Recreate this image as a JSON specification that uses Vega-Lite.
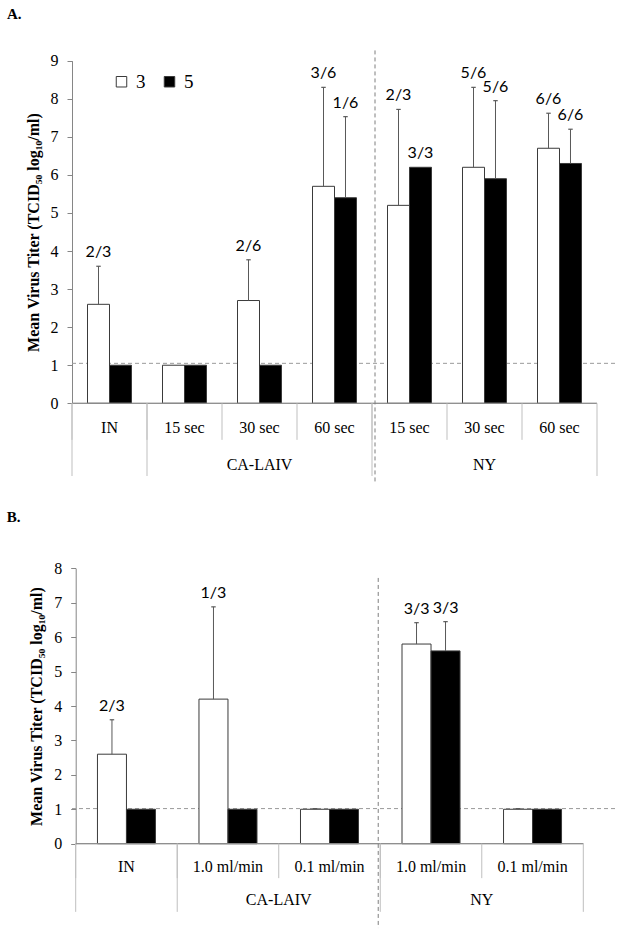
{
  "$schema": "https://vega.github.io/schema/vega-lite/v6.json",
  "width": 543,
  "height": 937,
  "autosize": {"type": "none"},
  "padding": {"left": 72, "right": 7, "top": 0, "bottom": 0},
  "background": "white",
  "config": {
    "view": {"stroke": null},
    "axis": {"labelFont": "Liberation Serif", "labelFontSize": 16, "labelColor": "black", "tickSize": 5, "tickColor": "#868686", "domainColor": "#868686", "titleFont": "Liberation Serif", "titleFontSize": 16, "titleFontWeight": "bold", "titleColor": "black", "titlePadding": 9, "labelPadding": 9, "grid": false, "format": "d"}
  },
  "datasets": {
    "barsA": [
      {"key": "IN", "series": "3", "value": 2.6, "hi": 3.6, "label": "2/3"},
      {"key": "IN", "series": "5", "value": 1.0, "hi": null, "label": null},
      {"key": "CA 15 sec", "series": "3", "value": 1.0, "hi": null, "label": null},
      {"key": "CA 15 sec", "series": "5", "value": 1.0, "hi": null, "label": null},
      {"key": "CA 30 sec", "series": "3", "value": 2.7, "hi": 3.77, "label": "2/6"},
      {"key": "CA 30 sec", "series": "5", "value": 1.0, "hi": null, "label": null},
      {"key": "CA 60 sec", "series": "3", "value": 5.7, "hi": 8.3, "label": "3/6"},
      {"key": "CA 60 sec", "series": "5", "value": 5.4, "hi": 7.53, "label": "1/6"},
      {"key": "NY 15 sec", "series": "3", "value": 5.2, "hi": 7.72, "label": "2/3"},
      {"key": "NY 15 sec", "series": "5", "value": 6.2, "hi": 6.2, "label": "3/3"},
      {"key": "NY 30 sec", "series": "3", "value": 6.2, "hi": 8.3, "label": "5/6"},
      {"key": "NY 30 sec", "series": "5", "value": 5.9, "hi": 7.95, "label": "5/6"},
      {"key": "NY 60 sec", "series": "3", "value": 6.7, "hi": 7.62, "label": "6/6"},
      {"key": "NY 60 sec", "series": "5", "value": 6.3, "hi": 7.2, "label": "6/6"}
    ],
    "catsA": [
      {"key": "IN", "label": "IN", "group": ""},
      {"key": "CA 15 sec", "label": "15 sec", "group": "CA-LAIV"},
      {"key": "CA 30 sec", "label": "30 sec", "group": "CA-LAIV"},
      {"key": "CA 60 sec", "label": "60 sec", "group": "CA-LAIV"},
      {"key": "NY 15 sec", "label": "15 sec", "group": "NY"},
      {"key": "NY 30 sec", "label": "30 sec", "group": "NY"},
      {"key": "NY 60 sec", "label": "60 sec", "group": "NY"}
    ],
    "barsB": [
      {"key": "IN", "series": "3", "value": 2.6, "hi": 3.6, "label": "2/3"},
      {"key": "IN", "series": "5", "value": 1.0, "hi": null, "label": null},
      {"key": "CA 1.0 ml/min", "series": "3", "value": 4.2, "hi": 6.88, "label": "1/3"},
      {"key": "CA 1.0 ml/min", "series": "5", "value": 1.0, "hi": null, "label": null},
      {"key": "CA 0.1 ml/min", "series": "3", "value": 1.0, "hi": 1.02, "label": null},
      {"key": "CA 0.1 ml/min", "series": "5", "value": 1.0, "hi": null, "label": null},
      {"key": "NY 1.0 ml/min", "series": "3", "value": 5.8, "hi": 6.42, "label": "3/3"},
      {"key": "NY 1.0 ml/min", "series": "5", "value": 5.6, "hi": 6.45, "label": "3/3"},
      {"key": "NY 0.1 ml/min", "series": "3", "value": 1.0, "hi": 1.02, "label": null},
      {"key": "NY 0.1 ml/min", "series": "5", "value": 1.0, "hi": null, "label": null}
    ],
    "catsB": [
      {"key": "IN", "label": "IN", "group": ""},
      {"key": "CA 1.0 ml/min", "label": "1.0 ml/min", "group": "CA-LAIV"},
      {"key": "CA 0.1 ml/min", "label": "0.1 ml/min", "group": "CA-LAIV"},
      {"key": "NY 1.0 ml/min", "label": "1.0 ml/min", "group": "NY"},
      {"key": "NY 0.1 ml/min", "label": "0.1 ml/min", "group": "NY"}
    ]
  },
  "layer": [
    {
      "layer": [
        {
          "data": {"values": [{}]},
          "mark": {"type": "rule", "strokeDash": [4, 3], "color": "#9a9a9a", "strokeWidth": 1},
          "encoding": {"y": {"datum": 1.05, "type": "quantitative", "scale": {"domain": [0, 9], "range": [403.3, 60.7], "nice": false, "zero": false}}}
        },
        {
          "data": {"name": "barsA"},
          "mark": {"type": "bar", "stroke": "#3a3a3a", "strokeWidth": 1},
          "encoding": {
            "x": {"field": "key", "type": "nominal", "axis": null, "scale": {"domain": ["IN", "CA 15 sec", "CA 30 sec", "CA 60 sec", "NY 15 sec", "NY 30 sec", "NY 60 sec"], "range": [0, 525], "paddingInner": 0, "paddingOuter": 0}},
            "xOffset": {"field": "series", "type": "nominal", "scale": {"domain": ["3", "5"], "paddingInner": 0, "paddingOuter": 0.705}},
            "y": {"field": "value", "type": "quantitative", "scale": {"domain": [0, 9], "range": [403.3, 60.7], "nice": false, "zero": false}, "axis": {"orient": "left", "values": [0, 1, 2, 3, 4, 5, 6, 7, 8, 9], "title": "Mean Virus Titer (TCID₅₀ log₁₀/ml)"}},
            "color": {"field": "series", "type": "nominal", "scale": {"domain": ["3", "5"], "range": ["#ffffff", "#000000"]}, "legend": {"orient": "none", "legendX": 40, "legendY": 72, "direction": "horizontal", "title": null, "symbolType": "square", "symbolSize": 110, "symbolStrokeColor": "#333333", "symbolStrokeWidth": 1, "labelFont": "Liberation Serif", "labelFontSize": 19, "labelColor": "black", "labelOffset": 5, "columnPadding": 14}}
          }
        },
        {
          "data": {"name": "barsA"},
          "transform": [{"filter": "datum.hi != null && datum.hi > datum.value"}],
          "mark": {"type": "rule", "color": "#595959", "strokeWidth": 1},
          "encoding": {
            "x": {"field": "key", "type": "nominal", "scale": {"domain": ["IN", "CA 15 sec", "CA 30 sec", "CA 60 sec", "NY 15 sec", "NY 30 sec", "NY 60 sec"], "range": [0, 525], "paddingInner": 0, "paddingOuter": 0}},
            "xOffset": {"field": "series", "type": "nominal", "scale": {"domain": ["3", "5"], "paddingInner": 0, "paddingOuter": 0.705}},
            "y": {"field": "value", "type": "quantitative", "scale": {"domain": [0, 9], "range": [403.3, 60.7], "nice": false, "zero": false}},
            "y2": {"field": "hi"}
          }
        },
        {
          "data": {"name": "barsA"},
          "transform": [{"filter": "datum.hi != null && datum.hi > datum.value"}],
          "mark": {"type": "point", "shape": "M-1,0H1", "size": 20, "stroke": "#595959", "filled": false, "strokeWidth": 1.2, "opacity": 1},
          "encoding": {
            "x": {"field": "key", "type": "nominal", "scale": {"domain": ["IN", "CA 15 sec", "CA 30 sec", "CA 60 sec", "NY 15 sec", "NY 30 sec", "NY 60 sec"], "range": [0, 525], "paddingInner": 0, "paddingOuter": 0}},
            "xOffset": {"field": "series", "type": "nominal", "scale": {"domain": ["3", "5"], "paddingInner": 0, "paddingOuter": 0.705}},
            "y": {"field": "hi", "type": "quantitative", "scale": {"domain": [0, 9], "range": [403.3, 60.7], "nice": false, "zero": false}}
          }
        },
        {
          "data": {"name": "barsA"},
          "transform": [{"filter": "datum.label != null"}],
          "mark": {"type": "text", "font": "Lato", "fontSize": 16, "color": "black", "baseline": "alphabetic", "align": "center", "dy": -9},
          "encoding": {
            "x": {"field": "key", "type": "nominal", "scale": {"domain": ["IN", "CA 15 sec", "CA 30 sec", "CA 60 sec", "NY 15 sec", "NY 30 sec", "NY 60 sec"], "range": [0, 525], "paddingInner": 0, "paddingOuter": 0}},
            "xOffset": {"field": "series", "type": "nominal", "scale": {"domain": ["3", "5"], "paddingInner": 0, "paddingOuter": 0.705}},
            "y": {"field": "hi", "type": "quantitative", "scale": {"domain": [0, 9], "range": [403.3, 60.7], "nice": false, "zero": false}},
            "text": {"field": "label"}
          }
        },
        {
          "data": {"name": "catsA"},
          "mark": {"type": "bar", "filled": false, "stroke": "#8c8c8c", "strokeWidth": 1},
          "encoding": {
            "x": {"field": "key", "type": "nominal", "scale": {"domain": ["IN", "CA 15 sec", "CA 30 sec", "CA 60 sec", "NY 15 sec", "NY 30 sec", "NY 60 sec"], "range": [0, 525], "paddingInner": 0, "paddingOuter": 0}},
            "y": {"datum": 0, "type": "quantitative", "scale": {"domain": [0, 9], "range": [403.3, 60.7], "nice": false, "zero": false}},
            "y2": {"datum": 0}
          }
        },
        {
          "data": {"name": "catsA"},
          "mark": {"type": "rule", "color": "#bfbfbf", "strokeWidth": 1},
          "encoding": {
            "x": {"field": "key", "type": "nominal", "bandPosition": 0, "scale": {"domain": ["IN", "CA 15 sec", "CA 30 sec", "CA 60 sec", "NY 15 sec", "NY 30 sec", "NY 60 sec"], "range": [0, 525], "paddingInner": 0, "paddingOuter": 0}},
            "y": {"datum": 0, "type": "quantitative", "scale": {"domain": [0, 9], "range": [403.3, 60.7], "nice": false, "zero": false}},
            "y2": {"datum": -0.96}
          }
        },
        {
          "data": {"name": "catsA"},
          "transform": [{"filter": "indexof(['IN','CA 15 sec','NY 15 sec'], datum.key) >= 0"}],
          "mark": {"type": "rule", "color": "#bfbfbf", "strokeWidth": 1},
          "encoding": {
            "x": {"field": "key", "type": "nominal", "bandPosition": 0, "scale": {"domain": ["IN", "CA 15 sec", "CA 30 sec", "CA 60 sec", "NY 15 sec", "NY 30 sec", "NY 60 sec"], "range": [0, 525], "paddingInner": 0, "paddingOuter": 0}},
            "y": {"datum": 0, "type": "quantitative", "scale": {"domain": [0, 9], "range": [403.3, 60.7], "nice": false, "zero": false}},
            "y2": {"datum": -1.91}
          }
        },
        {
          "data": {"name": "catsA"},
          "transform": [{"filter": "datum.key == 'NY 60 sec'"}],
          "mark": {"type": "rule", "color": "#bfbfbf", "strokeWidth": 1},
          "encoding": {
            "x": {"field": "key", "type": "nominal", "bandPosition": 1, "scale": {"domain": ["IN", "CA 15 sec", "CA 30 sec", "CA 60 sec", "NY 15 sec", "NY 30 sec", "NY 60 sec"], "range": [0, 525], "paddingInner": 0, "paddingOuter": 0}},
            "y": {"datum": 0, "type": "quantitative", "scale": {"domain": [0, 9], "range": [403.3, 60.7], "nice": false, "zero": false}},
            "y2": {"datum": -1.91}
          }
        },
        {
          "data": {"name": "catsA"},
          "transform": [{"filter": "datum.key == 'NY 15 sec'"}],
          "mark": {"type": "rule", "strokeDash": [4, 3], "color": "#7f7f7f", "strokeWidth": 1},
          "encoding": {
            "x": {"field": "key", "type": "nominal", "bandPosition": 0.04, "scale": {"domain": ["IN", "CA 15 sec", "CA 30 sec", "CA 60 sec", "NY 15 sec", "NY 30 sec", "NY 60 sec"], "range": [0, 525], "paddingInner": 0, "paddingOuter": 0}},
            "y": {"datum": 9.27, "type": "quantitative", "scale": {"domain": [0, 9], "range": [403.3, 60.7], "nice": false, "zero": false}},
            "y2": {"datum": -2.1}
          }
        },
        {
          "data": {"name": "catsA"},
          "mark": {"type": "text", "font": "Liberation Serif", "fontSize": 16, "color": "black", "baseline": "middle", "align": "center"},
          "encoding": {
            "x": {"field": "key", "type": "nominal", "scale": {"domain": ["IN", "CA 15 sec", "CA 30 sec", "CA 60 sec", "NY 15 sec", "NY 30 sec", "NY 60 sec"], "range": [0, 525], "paddingInner": 0, "paddingOuter": 0}},
            "y": {"datum": -0.65, "type": "quantitative", "scale": {"domain": [0, 9], "range": [403.3, 60.7], "nice": false, "zero": false}},
            "text": {"field": "label"}
          }
        },
        {
          "data": {"name": "catsA"},
          "transform": [{"filter": "indexof(['CA 30 sec','NY 30 sec'], datum.key) >= 0"}],
          "mark": {"type": "text", "font": "Liberation Serif", "fontSize": 16, "color": "black", "baseline": "middle", "align": "center"},
          "encoding": {
            "x": {"field": "key", "type": "nominal", "scale": {"domain": ["IN", "CA 15 sec", "CA 30 sec", "CA 60 sec", "NY 15 sec", "NY 30 sec", "NY 60 sec"], "range": [0, 525], "paddingInner": 0, "paddingOuter": 0}},
            "y": {"datum": -1.62, "type": "quantitative", "scale": {"domain": [0, 9], "range": [403.3, 60.7], "nice": false, "zero": false}},
            "text": {"field": "group"}
          }
        },
        {
          "data": {"name": "catsA"},
          "transform": [{"filter": "datum.key == 'IN'"}],
          "mark": {"type": "text", "font": "Liberation Serif", "fontSize": 15, "fontWeight": "bold", "color": "black", "baseline": "middle", "align": "left", "dx": -65},
          "encoding": {
            "x": {"field": "key", "type": "nominal", "bandPosition": 0, "scale": {"domain": ["IN", "CA 15 sec", "CA 30 sec", "CA 60 sec", "NY 15 sec", "NY 30 sec", "NY 60 sec"], "range": [0, 525], "paddingInner": 0, "paddingOuter": 0}},
            "y": {"datum": 10.23, "type": "quantitative", "scale": {"domain": [0, 9], "range": [403.3, 60.7], "nice": false, "zero": false}},
            "text": {"value": "A."}
          }
        }
      ]
    },
    {
      "layer": [
        {
          "data": {"values": [{}]},
          "mark": {"type": "rule", "strokeDash": [4, 3], "color": "#9a9a9a", "strokeWidth": 1},
          "encoding": {"y": {"datum": 1.02, "type": "quantitative", "scale": {"domain": [0, 8], "range": [843.7, 568.3], "nice": false, "zero": false}}}
        },
        {
          "data": {"name": "barsB"},
          "mark": {"type": "bar", "stroke": "#3a3a3a", "strokeWidth": 1},
          "encoding": {
            "x": {"field": "key", "type": "nominal", "axis": null, "scale": {"domain": ["IN", "CA 1.0 ml/min", "CA 0.1 ml/min", "NY 1.0 ml/min", "NY 0.1 ml/min"], "range": [3.7, 511.3], "paddingInner": 0, "paddingOuter": 0}},
            "xOffset": {"field": "series", "type": "nominal", "scale": {"domain": ["3", "5"], "paddingInner": 0, "paddingOuter": 0.75}},
            "y": {"field": "value", "type": "quantitative", "scale": {"domain": [0, 8], "range": [843.7, 568.3], "nice": false, "zero": false}, "axis": {"orient": "left", "offset": -3.7, "values": [0, 1, 2, 3, 4, 5, 6, 7, 8], "title": "Mean Virus Titer (TCID₅₀ log₁₀/ml)"}},
            "color": {"field": "series", "type": "nominal", "scale": {"domain": ["3", "5"], "range": ["#ffffff", "#000000"]}}
          }
        },
        {
          "data": {"name": "barsB"},
          "transform": [{"filter": "datum.hi != null && datum.hi > datum.value"}],
          "mark": {"type": "rule", "color": "#595959", "strokeWidth": 1},
          "encoding": {
            "x": {"field": "key", "type": "nominal", "scale": {"domain": ["IN", "CA 1.0 ml/min", "CA 0.1 ml/min", "NY 1.0 ml/min", "NY 0.1 ml/min"], "range": [3.7, 511.3], "paddingInner": 0, "paddingOuter": 0}},
            "xOffset": {"field": "series", "type": "nominal", "scale": {"domain": ["3", "5"], "paddingInner": 0, "paddingOuter": 0.75}},
            "y": {"field": "value", "type": "quantitative", "scale": {"domain": [0, 8], "range": [843.7, 568.3], "nice": false, "zero": false}},
            "y2": {"field": "hi"}
          }
        },
        {
          "data": {"name": "barsB"},
          "transform": [{"filter": "datum.hi != null && datum.hi > datum.value"}],
          "mark": {"type": "point", "shape": "M-1,0H1", "size": 20, "stroke": "#595959", "filled": false, "strokeWidth": 1.2, "opacity": 1},
          "encoding": {
            "x": {"field": "key", "type": "nominal", "scale": {"domain": ["IN", "CA 1.0 ml/min", "CA 0.1 ml/min", "NY 1.0 ml/min", "NY 0.1 ml/min"], "range": [3.7, 511.3], "paddingInner": 0, "paddingOuter": 0}},
            "xOffset": {"field": "series", "type": "nominal", "scale": {"domain": ["3", "5"], "paddingInner": 0, "paddingOuter": 0.75}},
            "y": {"field": "hi", "type": "quantitative", "scale": {"domain": [0, 8], "range": [843.7, 568.3], "nice": false, "zero": false}}
          }
        },
        {
          "data": {"name": "barsB"},
          "transform": [{"filter": "datum.label != null"}],
          "mark": {"type": "text", "font": "Lato", "fontSize": 16, "color": "black", "baseline": "alphabetic", "align": "center", "dy": -9},
          "encoding": {
            "x": {"field": "key", "type": "nominal", "scale": {"domain": ["IN", "CA 1.0 ml/min", "CA 0.1 ml/min", "NY 1.0 ml/min", "NY 0.1 ml/min"], "range": [3.7, 511.3], "paddingInner": 0, "paddingOuter": 0}},
            "xOffset": {"field": "series", "type": "nominal", "scale": {"domain": ["3", "5"], "paddingInner": 0, "paddingOuter": 0.75}},
            "y": {"field": "hi", "type": "quantitative", "scale": {"domain": [0, 8], "range": [843.7, 568.3], "nice": false, "zero": false}},
            "text": {"field": "label"}
          }
        },
        {
          "data": {"name": "catsB"},
          "mark": {"type": "bar", "filled": false, "stroke": "#8c8c8c", "strokeWidth": 1},
          "encoding": {
            "x": {"field": "key", "type": "nominal", "scale": {"domain": ["IN", "CA 1.0 ml/min", "CA 0.1 ml/min", "NY 1.0 ml/min", "NY 0.1 ml/min"], "range": [3.7, 511.3], "paddingInner": 0, "paddingOuter": 0}},
            "y": {"datum": 0, "type": "quantitative", "scale": {"domain": [0, 8], "range": [843.7, 568.3], "nice": false, "zero": false}},
            "y2": {"datum": 0}
          }
        },
        {
          "data": {"name": "catsB"},
          "mark": {"type": "rule", "color": "#bfbfbf", "strokeWidth": 1},
          "encoding": {
            "x": {"field": "key", "type": "nominal", "bandPosition": 0, "scale": {"domain": ["IN", "CA 1.0 ml/min", "CA 0.1 ml/min", "NY 1.0 ml/min", "NY 0.1 ml/min"], "range": [3.7, 511.3], "paddingInner": 0, "paddingOuter": 0}},
            "y": {"datum": 0, "type": "quantitative", "scale": {"domain": [0, 8], "range": [843.7, 568.3], "nice": false, "zero": false}},
            "y2": {"datum": -1.0}
          }
        },
        {
          "data": {"name": "catsB"},
          "transform": [{"filter": "indexof(['IN','CA 1.0 ml/min','NY 1.0 ml/min'], datum.key) >= 0"}],
          "mark": {"type": "rule", "color": "#bfbfbf", "strokeWidth": 1},
          "encoding": {
            "x": {"field": "key", "type": "nominal", "bandPosition": 0, "scale": {"domain": ["IN", "CA 1.0 ml/min", "CA 0.1 ml/min", "NY 1.0 ml/min", "NY 0.1 ml/min"], "range": [3.7, 511.3], "paddingInner": 0, "paddingOuter": 0}},
            "y": {"datum": 0, "type": "quantitative", "scale": {"domain": [0, 8], "range": [843.7, 568.3], "nice": false, "zero": false}},
            "y2": {"datum": -1.98}
          }
        },
        {
          "data": {"name": "catsB"},
          "transform": [{"filter": "datum.key == 'NY 0.1 ml/min'"}],
          "mark": {"type": "rule", "color": "#bfbfbf", "strokeWidth": 1},
          "encoding": {
            "x": {"field": "key", "type": "nominal", "bandPosition": 1, "scale": {"domain": ["IN", "CA 1.0 ml/min", "CA 0.1 ml/min", "NY 1.0 ml/min", "NY 0.1 ml/min"], "range": [3.7, 511.3], "paddingInner": 0, "paddingOuter": 0}},
            "y": {"datum": 0, "type": "quantitative", "scale": {"domain": [0, 8], "range": [843.7, 568.3], "nice": false, "zero": false}},
            "y2": {"datum": -1.98}
          }
        },
        {
          "data": {"name": "catsB"},
          "transform": [{"filter": "datum.key == 'NY 1.0 ml/min'"}],
          "mark": {"type": "rule", "strokeDash": [4, 3], "color": "#7f7f7f", "strokeWidth": 1},
          "encoding": {
            "x": {"field": "key", "type": "nominal", "bandPosition": -0.02, "scale": {"domain": ["IN", "CA 1.0 ml/min", "CA 0.1 ml/min", "NY 1.0 ml/min", "NY 0.1 ml/min"], "range": [3.7, 511.3], "paddingInner": 0, "paddingOuter": 0}},
            "y": {"datum": 7.72, "type": "quantitative", "scale": {"domain": [0, 8], "range": [843.7, 568.3], "nice": false, "zero": false}},
            "y2": {"datum": -2.45}
          }
        },
        {
          "data": {"name": "catsB"},
          "mark": {"type": "text", "font": "Liberation Serif", "fontSize": 16, "color": "black", "baseline": "middle", "align": "center"},
          "encoding": {
            "x": {"field": "key", "type": "nominal", "scale": {"domain": ["IN", "CA 1.0 ml/min", "CA 0.1 ml/min", "NY 1.0 ml/min", "NY 0.1 ml/min"], "range": [3.7, 511.3], "paddingInner": 0, "paddingOuter": 0}},
            "y": {"datum": -0.67, "type": "quantitative", "scale": {"domain": [0, 8], "range": [843.7, 568.3], "nice": false, "zero": false}},
            "text": {"field": "label"}
          }
        },
        {
          "data": {"name": "catsB"},
          "transform": [{"filter": "indexof(['CA 1.0 ml/min','NY 1.0 ml/min'], datum.key) >= 0"}],
          "mark": {"type": "text", "font": "Liberation Serif", "fontSize": 16, "color": "black", "baseline": "middle", "align": "center"},
          "encoding": {
            "x": {"field": "key", "type": "nominal", "bandPosition": 1, "scale": {"domain": ["IN", "CA 1.0 ml/min", "CA 0.1 ml/min", "NY 1.0 ml/min", "NY 0.1 ml/min"], "range": [3.7, 511.3], "paddingInner": 0, "paddingOuter": 0}},
            "y": {"datum": -1.64, "type": "quantitative", "scale": {"domain": [0, 8], "range": [843.7, 568.3], "nice": false, "zero": false}},
            "text": {"field": "group"}
          }
        },
        {
          "data": {"name": "catsB"},
          "transform": [{"filter": "datum.key == 'IN'"}],
          "mark": {"type": "text", "font": "Liberation Serif", "fontSize": 15, "fontWeight": "bold", "color": "black", "baseline": "middle", "align": "left", "dx": -69},
          "encoding": {
            "x": {"field": "key", "type": "nominal", "bandPosition": 0, "scale": {"domain": ["IN", "CA 1.0 ml/min", "CA 0.1 ml/min", "NY 1.0 ml/min", "NY 0.1 ml/min"], "range": [3.7, 511.3], "paddingInner": 0, "paddingOuter": 0}},
            "y": {"datum": 9.5, "type": "quantitative", "scale": {"domain": [0, 8], "range": [843.7, 568.3], "nice": false, "zero": false}},
            "text": {"value": "B."}
          }
        }
      ]
    }
  ],
  "resolve": {"scale": {"x": "independent", "y": "independent", "xOffset": "independent"}, "axis": {"x": "independent", "y": "independent"}}
}
